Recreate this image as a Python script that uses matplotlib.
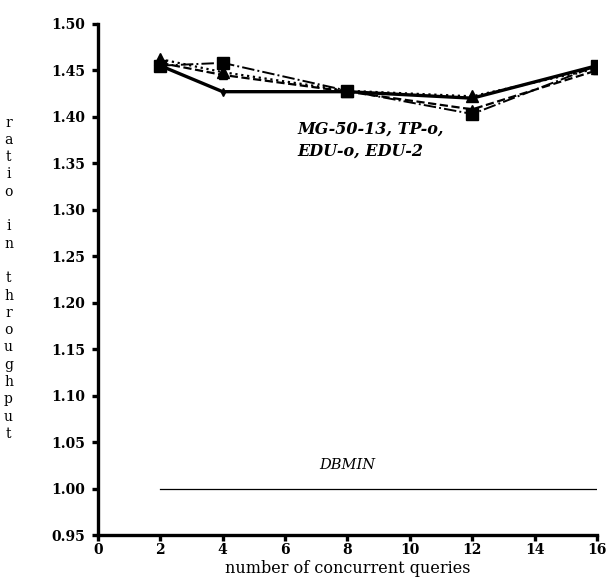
import matplotlib
matplotlib.use("Agg")
import matplotlib.pyplot as plt

queries = [2, 4, 8, 12, 16]
mg_50_13 = [1.455, 1.427, 1.427, 1.420, 1.455]
tp_o = [1.455, 1.458, 1.428, 1.403, 1.455]
edu_o = [1.462, 1.448, 1.428, 1.422, 1.452]
edu_2 = [1.458, 1.445, 1.427, 1.408, 1.450]
dbmin_x = [2, 16]
dbmin = [1.00, 1.00]

x_ticks = list(range(0, 17, 2))
y_ticks = [0.95, 1.00, 1.05, 1.10, 1.15, 1.20, 1.25, 1.30, 1.35, 1.40, 1.45, 1.50]

SERIF = "DejaVu Serif"

fig = plt.figure(figsize=(6.08, 5.81), dpi=100)
ax = fig.add_axes([0.161, 0.079, 0.821, 0.880])

ax.plot(queries, mg_50_13, color="black", lw=2.4, ls="-",
        marker="d", ms=4)
ax.plot(queries, tp_o, color="black", lw=1.4, ls="-.",
        marker="s", ms=8)
ax.plot(queries, edu_o, color="black", lw=1.6, ls=":",
        marker="^", ms=8)
ax.plot(queries, edu_2, color="black", lw=1.6, ls="--",
        marker="^", ms=6)
ax.plot(dbmin_x, dbmin, color="black", lw=0.9)

ax.text(6.4, 1.396, "MG-50-13, TP-o,\nEDU-o, EDU-2", fontsize=11.5,
        fontstyle="italic", fontweight="bold", family=SERIF,
        va="top", ha="left", linespacing=1.4)
ax.text(8.0, 1.018, "DBMIN", fontsize=10.5, fontstyle="italic",
        family=SERIF, ha="center", va="bottom")

ax.set_xlim(0, 16)
ax.set_ylim(0.95, 1.50)
ax.set_xticks(x_ticks)
ax.set_yticks(y_ticks)
ax.set_xticklabels([str(v) for v in x_ticks], family=SERIF,
                   fontweight="bold", fontsize=10)
ax.set_yticklabels([f"{v:.2f}" for v in y_ticks], family=SERIF,
                   fontweight="bold", fontsize=10)

for side in ["top", "right"]:
    ax.spines[side].set_visible(False)
for side in ["left", "bottom"]:
    ax.spines[side].set_linewidth(2.4)
ax.tick_params(direction="out", length=4, width=2.4)
ax.tick_params(axis="y", pad=5)
ax.tick_params(axis="x", pad=2)

ax.set_xlabel("number of concurrent queries", family=SERIF,
              fontsize=11.5, labelpad=2)

ylabel = "\n".join(list("ratio in throughput"))
fig.text(0.014, 0.521, ylabel, family=SERIF, fontsize=10,
         ha="center", va="center", linespacing=1.3)

fig.savefig("out.png", dpi=100)
